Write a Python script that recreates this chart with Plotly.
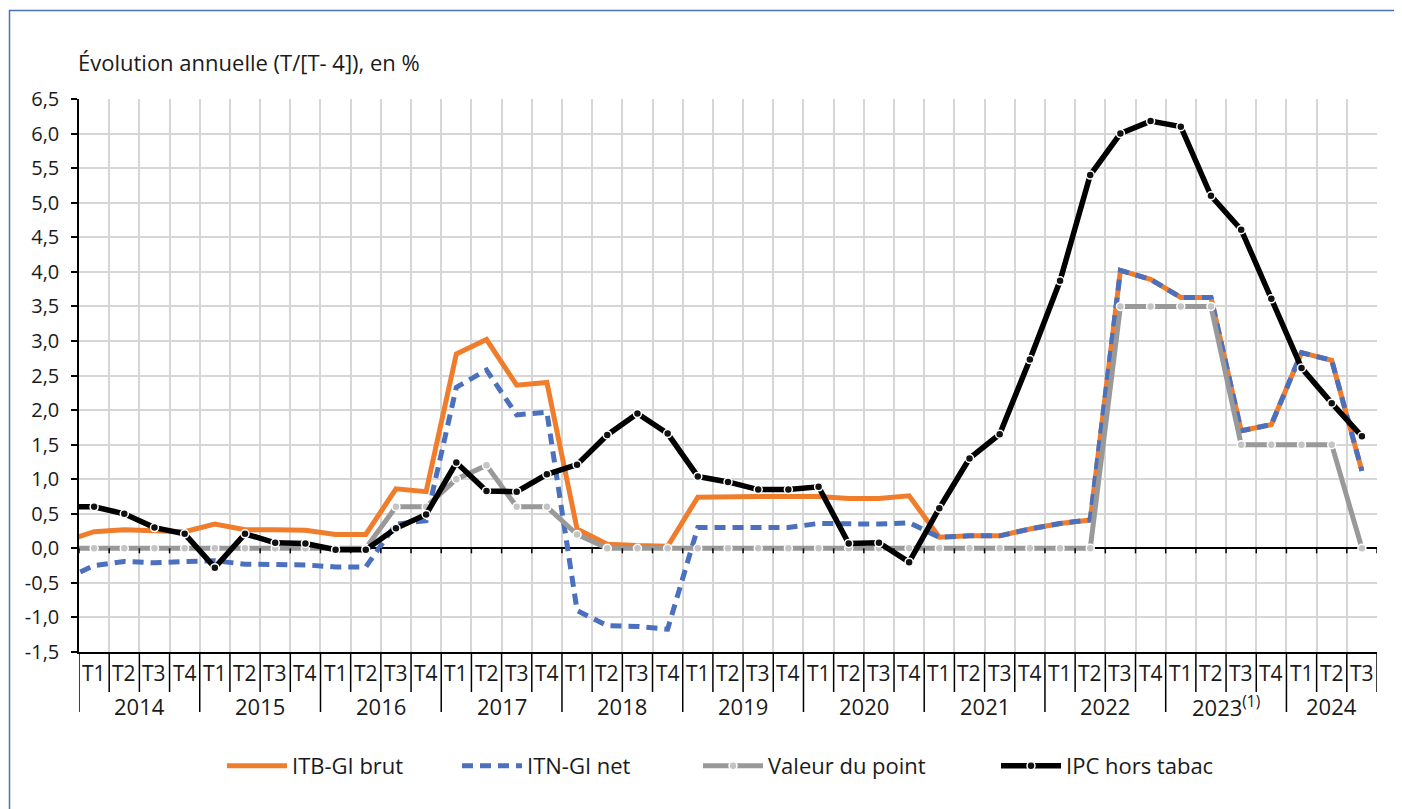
import plotly.graph_objects as go

# ---------------- data ----------------
years = ["2014", "2015", "2016", "2017", "2018", "2019", "2020", "2021", "2022", "2023<sup>(1)</sup>", "2024"]
quarters_per_year = [4, 4, 4, 4, 4, 4, 4, 4, 4, 4, 3]
quarter_names = ["T1", "T2", "T3", "T4"]

# value of the quarter preceding 2014 T1 (only its segment reaches the plot edge)
prev_itb, prev_itn, prev_valeur, prev_ipc = 0.10, -0.45, 0.0, 0.60

itb_gi_brut = [0.24, 0.27, 0.25, 0.24,
               0.35, 0.27, 0.27, 0.26,
               0.20, 0.20, 0.86, 0.82,
               2.81, 3.02, 2.36, 2.40,
               0.28, 0.06, 0.04, 0.03,
               0.74, 0.75, 0.75, 0.75,
               0.75, 0.72, 0.72, 0.76,
               0.16, 0.18, 0.18, 0.28,
               0.36, 0.41, 4.02, 3.89,
               3.63, 3.63, 1.70, 1.79,
               2.83, 2.72, 1.12]
itn_gi_net = [-0.25, -0.19, -0.21, -0.19,
              -0.18, -0.23, -0.23, -0.24,
              -0.27, -0.27, 0.35, 0.40,
              2.33, 2.58, 1.93, 1.97,
              -0.90, -1.12, -1.13, -1.17,
              0.30, 0.30, 0.30, 0.30,
              0.36, 0.35, 0.35, 0.37,
              0.16, 0.18, 0.18, 0.28,
              0.36, 0.41, 4.02, 3.89,
              3.63, 3.63, 1.70, 1.79,
              2.83, 2.72, 1.12]
valeur_point = [0, 0, 0, 0,
                0, 0, 0, 0,
                0, 0, 0.6, 0.6,
                1.0, 1.2, 0.6, 0.6,
                0.2, 0, 0, 0,
                0, 0, 0, 0,
                0, 0, 0, 0,
                0, 0, 0, 0,
                0, 0, 3.5, 3.5,
                3.5, 3.5, 1.5, 1.5,
                1.5, 1.5, 0]
ipc_hors_tabac = [0.60, 0.50, 0.30, 0.21,
                  -0.28, 0.21, 0.08, 0.07,
                  -0.02, -0.02, 0.29, 0.49,
                  1.24, 0.83, 0.82, 1.07,
                  1.21, 1.64, 1.95, 1.66,
                  1.04, 0.96, 0.85, 0.85,
                  0.89, 0.07, 0.08, -0.20,
                  0.58, 1.30, 1.65, 2.73,
                  3.87, 5.40, 6.00, 6.18,
                  6.10, 5.10, 4.61, 3.61,
                  2.61, 2.10, 1.62]

y_tickvals = [6.5, 6.0, 5.5, 5.0, 4.5, 4.0, 3.5, 3.0, 2.5, 2.0, 1.5, 1.0, 0.5, 0.0, -0.5, -1.0, -1.5]
y_ticktext = ["6,5", "6,0", "5,5", "5,0", "4,5", "4,0", "3,5", "3,0", "2,5", "2,0", "1,5", "1,0", "0,5", "0,0", "-0,5", "-1,0", "-1,5"]

title_text = "Évolution annuelle (T/[T- 4]), en %"

# ---------------- figure ----------------
FONT = "Open Sans"
TXT = "#1a1a1a"
n = len(ipc_hors_tabac)
xs = list(range(-1, n))

ORANGE = "#F07D2C"
BLUE = "#4A70BE"
GREY = "#999999"
BLACK = "#000000"

fig = go.Figure()
fig.add_trace(go.Scatter(x=xs, y=[prev_itb] + itb_gi_brut, name="ITB-GI brut", mode="lines",
                         line=dict(color=ORANGE, width=5), legend="legend"))
fig.add_trace(go.Scatter(x=xs, y=[prev_itn] + itn_gi_net, name="ITN-GI net", mode="lines",
                         line=dict(color=BLUE, width=5, dash="11px,7px"), legend="legend2"))
fig.add_trace(go.Scatter(x=xs, y=[prev_valeur] + valeur_point, name="Valeur du point", mode="lines+markers",
                         line=dict(color=GREY, width=5),
                         marker=dict(color="#c4c4c4", size=8, line=dict(color="white", width=1.5)),
                         legend="legend3"))
fig.add_trace(go.Scatter(x=xs, y=[prev_ipc] + ipc_hors_tabac, name="IPC hors tabac", mode="lines+markers",
                         line=dict(color=BLACK, width=5.5),
                         marker=dict(color="#111111", size=8, line=dict(color="white", width=1.5)),
                         legend="legend4"))

OFF = 8  # page body margin
W, H = 1394, 801
L, T = 79 - OFF, 99 - OFF
R = W - (1377 - OFF)
B = H - (652 - OFF)
pw, ph = W - L - R, H - T - B

def px_x(p):
    return (p - OFF - L) / pw

def px_y(p):
    return (H - B - (p - OFF)) / ph

boundaries = [i - 0.5 for i in range(n + 1)]

fig.update_xaxes(range=[-0.5, n - 0.5], tickmode="array", tickvals=boundaries,
                 showticklabels=False, ticks="", showgrid=True, gridcolor="#d6d6d6", gridwidth=2,
                 showline=True, linecolor="black", linewidth=1.5, zeroline=False, fixedrange=True)
fig.update_yaxes(range=[-1.5, 6.5], tickmode="array", tickvals=y_tickvals, ticktext=y_ticktext,
                 showgrid=True, gridcolor="#d6d6d6", gridwidth=2,
                 zeroline=True, zerolinecolor="black", zerolinewidth=1.5,
                 showline=True, linecolor="black", linewidth=1.5,
                 ticks="outside", ticklen=6, tickcolor="black", tickwidth=1.5,
                 ticklabelstandoff=8,
                 tickfont=dict(family=FONT, size=20, color=TXT), fixedrange=True)

shapes = []
# ticks on the zero line
for b in boundaries:
    shapes.append(dict(type="line", xref="x", yref="y", x0=b, x1=b, ysizemode="pixel", yanchor=0,
                       y0=0, y1=-5, line=dict(color="black", width=1.5)))
# category separators under the axis
year_starts = []
idx = 0
for q in quarters_per_year:
    year_starts.append(idx)
    idx += q
for i in range(n + 1):
    long_sep = i in year_starts
    shapes.append(dict(type="line", xref="x", yref="paper", x0=i - 0.5, x1=i - 0.5,
                       y0=0, y1=px_y(712 if long_sep else 692), line=dict(color="black", width=1.5)))
# outer frame
shapes.append(dict(type="rect", xref="paper", yref="paper", x0=px_x(9.5), x1=px_x(1430),
                   y0=px_y(840), y1=px_y(10.5), line=dict(color="#4E72B8", width=1.5),
                   fillcolor="rgba(0,0,0,0)", layer="below"))

annotations = []
idx = 0
for yr, q in zip(years, quarters_per_year):
    for k in range(q):
        annotations.append(dict(x=idx + k, y=px_y(673), xref="x", yref="paper", text=quarter_names[k],
                                showarrow=False, xanchor="center", yanchor="middle",
                                font=dict(family=FONT, size=21, color=TXT)))
    annotations.append(dict(x=idx + (q - 1) / 2, y=px_y(706), xref="x", yref="paper", text=yr,
                            showarrow=False, xanchor="center", yanchor="middle",
                            font=dict(family=FONT, size=22, color=TXT)))
    idx += q
annotations.append(dict(x=px_x(76), y=px_y(62), xref="paper", yref="paper", text=title_text,
                        showarrow=False, xanchor="left", yanchor="middle",
                        font=dict(family=FONT, size=22, color=TXT)))

leg_common = dict(orientation="h", xanchor="left", yanchor="middle", y=px_y(766),
                  bgcolor="rgba(0,0,0,0)", itemwidth=60,
                  font=dict(family=FONT, size=22, color=TXT))

fig.update_layout(
    width=W, height=H,
    margin=dict(l=L, r=R, t=T, b=B),
    plot_bgcolor="white", paper_bgcolor="white",
    showlegend=True,
    shapes=shapes, annotations=annotations,
    legend=dict(x=px_x(222), **leg_common),
    legend2=dict(x=px_x(457), **leg_common),
    legend3=dict(x=px_x(698), **leg_common),
    legend4=dict(x=px_x(996), **leg_common),
    font=dict(family=FONT),
)

fig.write_html("out.html")
